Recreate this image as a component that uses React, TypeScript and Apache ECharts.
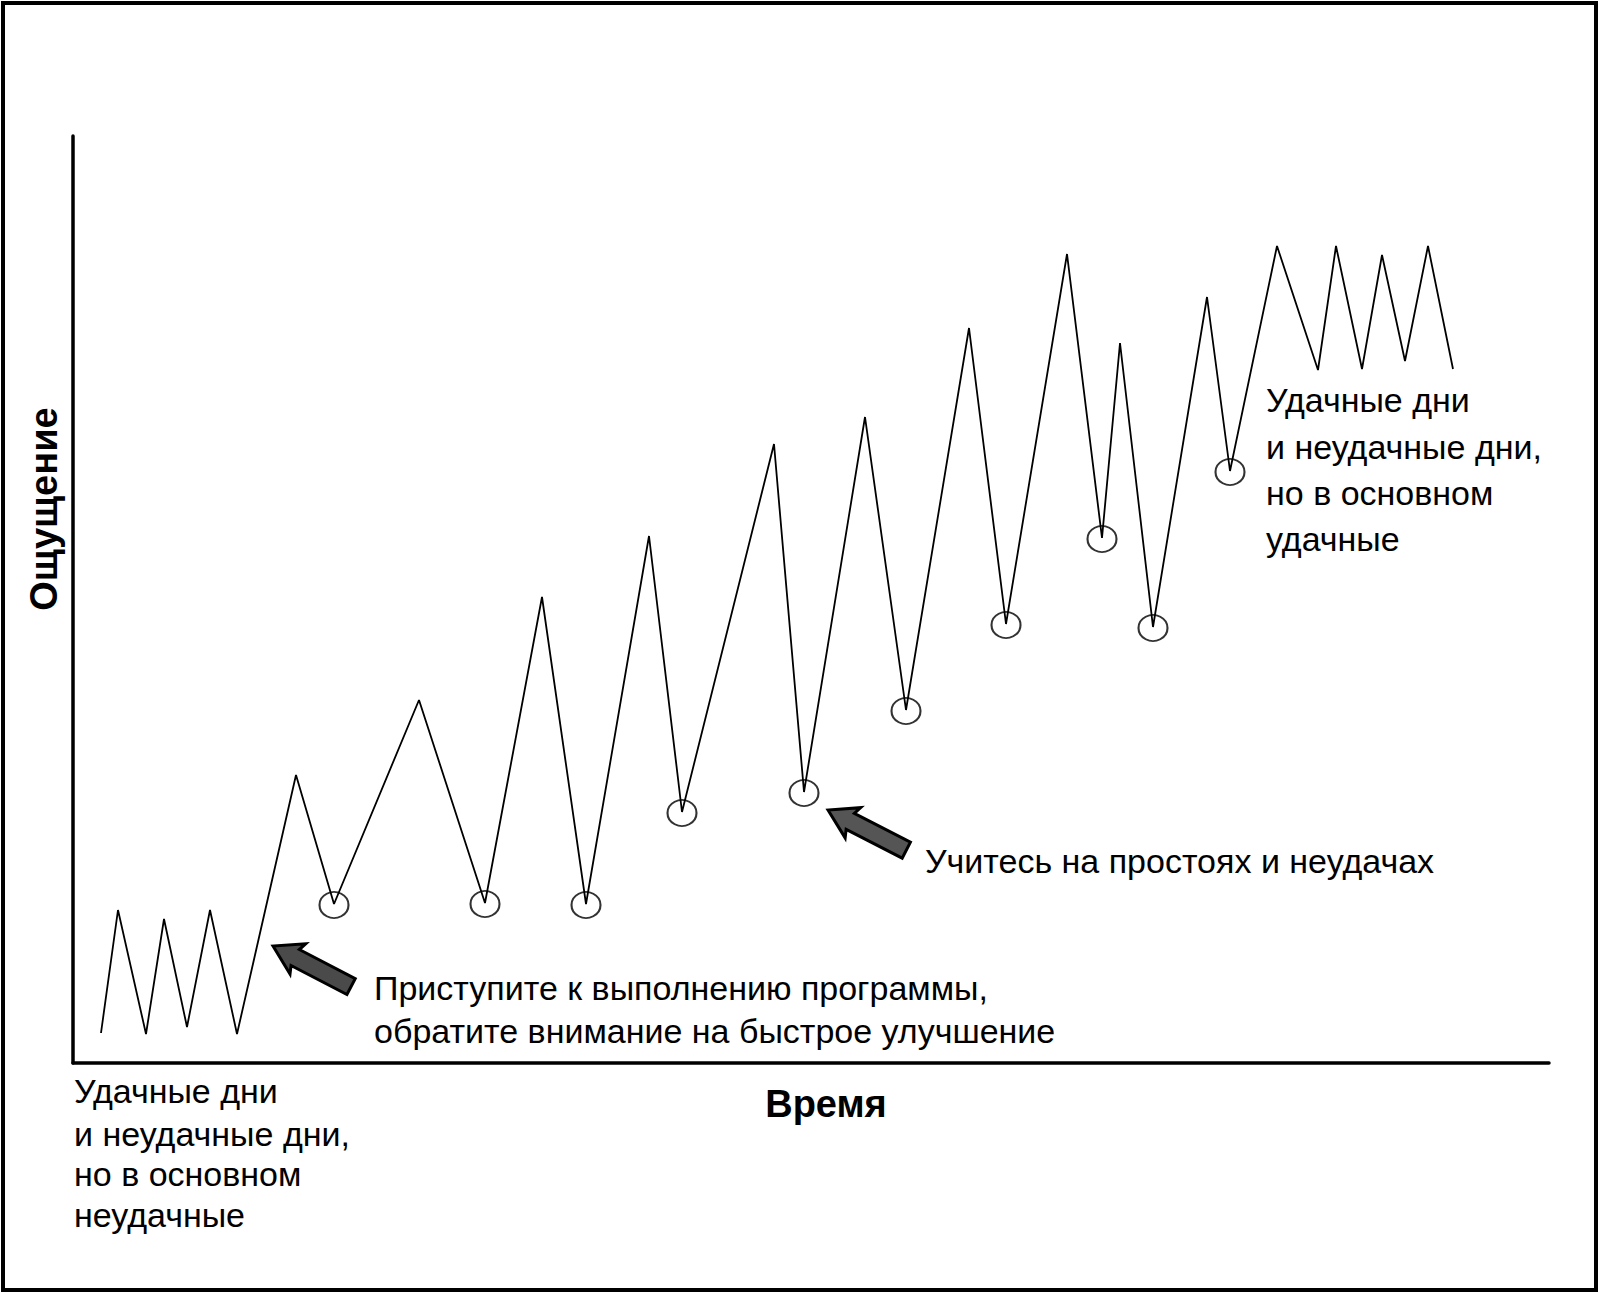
import React, { useEffect, useRef } from "react";
import * as echarts from "echarts";

// Time (x) and feeling (y) values of the zigzag line
const TIME = [28, 45, 73, 91, 114, 137, 164, 223, 261, 346, 412, 469, 513, 576, 609, 701, 731, 792, 833, 896, 933, 994, 1029, 1047, 1080, 1134, 1157, 1204, 1245, 1263, 1289, 1309, 1332, 1355, 1380];
const FEELING = [30, 153, 29, 144, 36, 153, 29, 288, 159, 363, 160, 466, 159, 527, 251, 619, 271, 646, 353, 735, 439, 809, 525, 720, 436, 766, 592, 817, 693, 817, 694, 808, 702, 817, 694];
// indices of circled troughs
const CIRCLED = [8, 10, 12, 14, 16, 18, 20, 22, 24, 26];

const X_MAX = 1476;
const Y_MAX = 927;

const AXIS_X_NAME = "Время";
const AXIS_Y_NAME = "Ощущение";
const NOTE_START = ["Приступите к выполнению программы,", "обратите внимание на быстрое улучшение"];
const NOTE_LEARN = ["Учитесь на простоях и неудачах"];
const NOTE_GOOD = ["Удачные дни", "и неудачные дни,", "но в основном", "удачные"];
const NOTE_BAD = ["Удачные дни", "и неудачные дни,", "но в основном", "неудачные"];

const FONT = "'Liberation Sans', Arial, sans-serif";

function arrowPoints(tipX: number, tipY: number, dx: number, dy: number) {
  const len = Math.sqrt(dx * dx + dy * dy);
  const ux = dx / len, uy = dy / len; // direction tip -> tail
  const nx = -uy, ny = ux;
  const shape: [number, number][] = [
    [0, 0], [28, 17], [25, 9], [88, 9], [88, -9], [25, -9], [28, -17],
  ];
  return shape.map(([a, b]) => [tipX + a * ux + b * nx, tipY + a * uy + b * ny]);
}

function textLines(lines: string[], x: number, ys: number[], size: number) {
  return lines.map((t, i) => ({
    type: "text",
    x,
    y: ys[i],
    style: {
      text: t,
      fill: "#000",
      fontSize: size,
      fontFamily: FONT,
      textAlign: "left",
      textVerticalAlign: "middle",
    },
  }));
}

export default function App() {
  const ref = useRef<HTMLDivElement>(null);
  useEffect(() => {
    document.body.style.margin = "0";
    const chart = echarts.init(ref.current!, null, { renderer: "svg" });
    const lineData = TIME.map((t, i) => [t, FEELING[i]]);
    const circleData = CIRCLED.map((i) => [TIME[i], FEELING[i]]);
    const axisCommon = {
      type: "value",
      min: 0,
      axisLine: { show: true, lineStyle: { color: "#000", width: 3.5 } },
      axisTick: { show: false },
      axisLabel: { show: false },
      splitLine: { show: false },
    };
    chart.setOption({
      animation: false,
      backgroundColor: "#fff",
      grid: { left: 73, top: 136, width: X_MAX, height: Y_MAX },
      xAxis: { ...axisCommon, max: X_MAX },
      yAxis: { ...axisCommon, max: Y_MAX },
      series: [
        {
          type: "line",
          data: lineData,
          symbol: "none",
          lineStyle: { color: "#000", width: 1.8 },
          z: 3,
        },
        {
          type: "scatter",
          data: circleData,
          symbol: "circle",
          symbolSize: [29, 26],
          symbolOffset: [0, 1],
          itemStyle: { color: "rgba(0,0,0,0)", borderColor: "#000", borderWidth: 2 },
          z: 4,
        },
      ],
      graphic: [
        {
          type: "rect",
          shape: { x: 3, y: 3, width: 1593, height: 1287 },
          style: { fill: "none", stroke: "#000", lineWidth: 4 },
        },
        {
          type: "polygon",
          shape: { points: arrowPoints(273, 946, 77, 40) },
          style: { fill: "#4a4a4a", stroke: "#000", lineWidth: 3 },
        },
        {
          type: "polygon",
          shape: { points: arrowPoints(828, 810, 78, 40) },
          style: { fill: "#555", stroke: "#000", lineWidth: 3 },
        },
        {
          type: "text",
          x: 826,
          y: 1104,
          style: {
            text: AXIS_X_NAME,
            fill: "#000",
            fontSize: 38,
            fontWeight: "bold",
            fontFamily: FONT,
            textAlign: "center",
            textVerticalAlign: "middle",
          },
        },
        {
          type: "text",
          x: 44,
          y: 509,
          rotation: Math.PI / 2,
          style: {
            text: AXIS_Y_NAME,
            fill: "#000",
            fontSize: 38,
            fontWeight: "bold",
            fontFamily: FONT,
            textAlign: "center",
            textVerticalAlign: "middle",
          },
        },
        ...textLines(NOTE_START, 374, [988, 1031], 34),
        ...textLines(NOTE_LEARN, 925, [861], 34),
        ...textLines(NOTE_GOOD, 1266, [400, 447, 493, 539], 34),
        ...textLines(NOTE_BAD, 74, [1091, 1134, 1174, 1215], 34),
      ],
    });
    return () => chart.dispose();
  }, []);
  return <div ref={ref} style={{ width: 1600, height: 1294 }} />;
}
